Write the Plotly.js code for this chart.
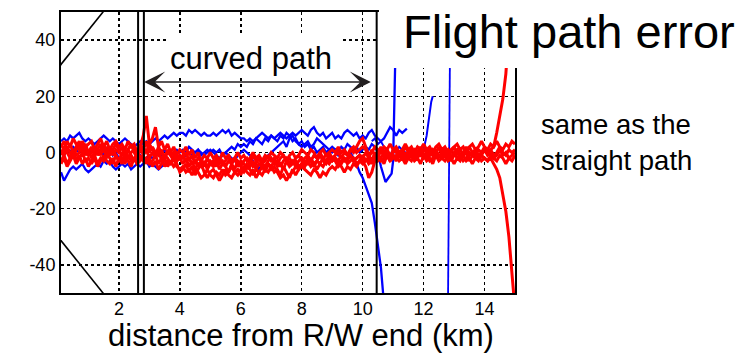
<!DOCTYPE html>
<html>
<head>
<meta charset="utf-8">
<script src="https://cdn.plot.ly/plotly-3.0.1.min.js"></script>
<style>html,body{margin:0;padding:0;background:#fff;}#chart{width:754px;height:353px;}</style>
</head>
<body>
<div id="chart"></div>
<script>
// distance grid (km)
const kmGrid = [
0.1,0.2,0.3,0.4,0.5,0.6,0.7,0.8,0.9,1.0,
1.1,1.2,1.3,1.4,1.5,1.6,1.7,1.8,1.9,2.0,
2.1,2.2,2.3,2.4,2.5,2.6,2.7,2.8,2.9,3.0,
3.1,3.2,3.3,3.4,3.5,3.6,3.7,3.8,3.9,4.0,
4.1,4.2,4.3,4.4,4.5,4.6,4.7,4.8,4.9,5.0,
5.1,5.2,5.3,5.4,5.5,5.6,5.7,5.8,5.9,6.0,
6.1,6.2,6.3,6.4,6.5,6.6,6.7,6.8,6.9,7.0,
7.1,7.2,7.3,7.4,7.5,7.6,7.7,7.8,7.9,8.0,
8.1,8.2,8.3,8.4,8.5,8.6,8.7,8.8,8.9,9.0,
9.1,9.2,9.3,9.4,9.5,9.6,9.7,9.8,9.9,10.0,
10.1,10.2,10.3,10.4,10.5,10.6,10.7,10.8,10.9,11.0,
11.1,11.2,11.3,11.4,11.5,11.6,11.7,11.8,11.9,12.0,
12.1,12.2,12.3,12.4,12.5,12.6,12.7,12.8,12.9,13.0,
13.1,13.2,13.3,13.4,13.5,13.6,13.7,13.8,13.9,14.0,
14.1,14.2,14.3,14.4,14.5,14.6,14.7,14.8,14.9,15.0];

// red runs (flight path error, m) on kmGrid
const redRun1 = [
3,1,4,2,5,3,1,4,2,3,
4,1,3,5,2,4,1,3,4,2,
3,1,4,2,3,0,2,6,13,3,
5,9,2,4,1,3,0,2,-1,1,
0,2,-1,1,-2,0,-3,-1,-2,0,
-2,-1,-3,0,-2,-1,-3,-2,0,-2,
-1,-3,-2,0,-2,-1,-3,-1,-2,0,
-1,-2,0,-1,-3,-1,0,-2,-1,1,
0,-1,1,0,-2,0,1,-1,0,1,
0,2,0,1,-1,1,2,0,1,2,
1,-1,0,2,1,0,2,1,3,1,
2,0,1,3,1,2,0,2,1,3,
1,2,0,2,3,1,2,0,1,2,
3,1,2,0,2,3,1,2,4,2,
1,3,2,4,2,1,3,2,4,3];
const redRun2 = [
1,-1,2,0,-2,1,3,0,1,-1,
0,2,-1,1,3,0,2,-1,1,0,
2,-1,1,3,0,-2,1,2,0,3,
1,-1,2,0,-2,1,-1,0,-3,-1,
-2,0,-3,-1,-4,-2,-3,-5,-2,-4,
-3,-5,-2,-4,-3,-1,-4,-2,-3,-5,
-3,-2,-4,-1,-3,-2,-4,-3,-1,-3,
-2,-4,-2,-1,-3,-2,-4,-2,-1,-3,
-2,-1,-3,-1,-2,0,-2,-1,0,-2,
-1,0,-2,0,-1,1,0,2,4,5,
2,-1,-3,0,-2,1,-1,0,-2,1,
0,-1,1,-2,0,1,-1,0,2,-1,
0,1,-1,0,2,-1,0,1,-2,0,
1,-1,0,2,-1,0,1,-1,0,2,
0,1,-1,0,2,0,-1,1,0,1];
const redRun3 = [
-1,2,0,-2,1,-1,0,3,-1,1,
-2,0,1,-1,2,-2,0,1,-1,-3,
0,-2,1,-1,-3,0,2,-1,1,-2,
0,-2,1,-3,-1,-2,-4,-1,-3,-2,
-4,-2,-5,-3,-6,-4,-5,-3,-6,-4,
-5,-3,-6,-4,-5,-7,-4,-6,-3,-5,
-6,-4,-5,-3,-6,-4,-5,-7,-4,-5,
-3,-5,-4,-6,-3,-5,-4,-3,-5,-4,
-3,-4,-2,-4,-3,-1,-3,-4,-2,-3,
-2,-3,-1,-3,-2,-1,-3,-2,-1,-3,
-5,-9,-7,-3,-1,-2,0,-1,-3,-1,
-2,0,-1,-3,-1,0,-2,-1,1,-1,
-2,0,-1,1,-1,-2,0,-1,-3,-1,
0,-2,-1,0,-3,-1,0,-2,-1,1,
-1,0,-2,-1,1,-1,0,-2,-1,0];
const redRun4 = [
-3,-1,-4,-2,0,-3,-1,-4,-2,-5,
-3,-1,-4,-2,-3,0,-2,-4,-1,-3,
-2,-4,-1,-3,-2,-4,-1,-3,-2,-4,
-3,-1,-4,-2,-5,-3,-4,-2,-5,-6,
-5,-7,-6,-8,-6,-7,-9,-8,-6,-8,
-9,-7,-8,-6,-8,-7,-5,-7,-8,-6,
-7,-5,-6,-8,-6,-7,-5,-6,-4,-6,
-5,-7,-9,-8,-10,-8,-7,-5,-6,-4,
-5,-3,-5,-4,-6,-4,-5,-3,-4,-2,
-3,-5,-4,-2,-4,-3,-2,-4,-3,-1,
-3,-2,-4,-2,-1,-3,-2,0,-2,-1,
-3,-1,-2,0,-2,-3,-1,-2,0,-2,
-1,-3,-2,0,-1,-2,-3,-1,-2,0,
-2,-1,-3,-2,0,-1,-2,-3,-1,-2,
-3,-1,-2,-3,-1,-2,-4,-2,-3,-1];
const redRun5 = [
2,4,1,3,0,2,4,1,3,0,
2,-1,1,3,0,2,-1,1,3,1,
-1,1,-2,0,1,-1,3,1,4,0,
2,0,-1,1,-2,0,-1,-3,-1,-2,
-1,-3,-2,-4,-3,-5,-3,-4,-5,-3,
-4,-2,-4,-3,-5,-3,-4,-2,-5,-3,
-4,-6,-3,-5,-4,-2,-4,-5,-3,-2,
-4,-3,-5,-3,-2,-4,-3,-5,-3,-2,
-4,-2,-3,-5,-3,-4,-2,-3,-1,-3,
-2,-4,-3,-2,-3,-1,-3,-2,-1,-2,
0,-2,1,-1,0,2,0,1,-1,0,
1,-1,0,2,0,-1,1,0,-1,1,
0,-1,1,0,-2,0,1,-1,0,2,
0,1,-1,0,2,0,-1,1,0,1,
0,1,2,7,13,19,28,42,58,75];
const redRun6 = [
-4,-2,-5,-3,-1,-4,-2,0,-3,-2,
-4,-2,-5,-3,-1,-3,-4,-2,-5,-2,
-4,-1,-3,-5,-2,-4,-3,-1,-4,-2,
-5,-3,-6,-4,-2,-5,-3,-5,-4,-7,
-6,-4,-7,-5,-8,-6,-4,-7,-9,-7,
-6,-8,-10,-8,-6,-8,-9,-7,-6,-8,
-5,-7,-8,-6,-9,-7,-8,-6,-7,-5,
-7,-6,-8,-5,-7,-9,-6,-8,-6,-5,
-6,-7,-8,-6,-7,-9,-7,-8,-6,-5,
-6,-4,-5,-7,-5,-6,-4,-5,-3,-4,
-2,-4,-3,-1,-3,-2,-4,-1,-3,-2,
-1,-3,-2,-4,-2,-1,-3,-2,-4,-1,
-3,-2,-4,-1,-3,-2,-1,-3,-2,-4,
-2,-3,-1,-3,-2,-4,-2,-1,-3,-2,
-3,-2,-4,-6,-9,-15,-21,-30,-42,-56];

// blue runs
const blueRunA = [
4,5,4,6,5,6,7,5,4,5,
4,3,4,5,6,5,4,5,4,3,
4,5,4,3,2,3,4,3,4,3,
4,5,4,5,6,5,6,7,6,7,
7,6,8,7,8,7,6,7,6,6,
7,6,7,8,7,8,6,7,6,5,
5,4,5,4,5,6,7,6,5,6,
5,6,7,6,5,6,7,6,7,8,
7,6,8,9,7,6,7,5,6,7,
5,6,5,7,8,7,6,7,5,6,
5,7,8,6,5,4,5];
const blueRunATailKm = [10.8,10.9,11.0,11.1,11.2,11.3,11.45];
const blueRunATail = [7,9,8,6,8,7,8.5];

const blueRunB = [
0,-1,1,0,2,1,0,2,1,0,
1,2,0,1,-1,0,1,-1,0,-2,
-1,0,-2,-1,-3,-2,-1,-3,-2,-1,
-2,-1,0,-1,1,0,-1,0,1,0,
1,0,2,1,0,1,-1,0,1,0,
1,0,1,-1,0,1,2,1,3,2,
3,2,4,3,5,4,3,5,4,6,
5,4,6,5,7,6,4,5,3,4,
2,3,1,2,0,1,2,0,1,2,
1,0,2,1,3,2,1,2,0,1,
2,1,3,2,0];
const blueRunBTailKm = [10.6,10.7,10.75,10.85,10.95,11.0,11.02,11.05,11.08,11.12];
const blueRunBTail = [-5,-9,-10.5,-9,-7.5,-3,5,20,38,55];

const blueRunC = [
-7,-10,-8,-6,-5,-6,-5,-4,-6,-7,
-6,-5,-4,-5,-3,-4,-3,-5,-6,-5,
-4,-5,-4,-6,-5,-4,-5,-4,-3,-5,
-4,-5,-6,-5,-4,-3,-4,-2,-3,-1,
-2,-1,0,-1,0,1,0,-1,0,1,
0,-1,-2,-1,0,-1,-2,-3,-1,0,
1,0,-1,-3,-5,-6,-4,-2,-1,0,
1,2,3,4,2,5,6,4,3,2,
3,4,2,3,5,4,3,2,1,0,
1,-1,0,1,-1,0,-2,-4];
const blueRunCTailKm = [9.9,10.0,10.1,10.2,10.3,10.4,10.5,10.6,10.67,10.72];
const blueRunCTail = [-7,-9,-12,-15,-18,-25,-33,-41,-50,-55];

const blueRunD = [4,5,3,4,2,0,-1,1,0,2,1,0,-1,1,0,2,1,1];   // 10.3 .. 12.0 km
const blueRunDTailKm = [12.05,12.1,12.15,12.2,12.25,12.3];
const blueRunDTail = [3,6,10,14,18,20];

const blueRunEKm = [12.88,12.8];
const blueRunE = [55,-55];

// reference guides
const guideKm = [0,1.5];
const guideUpper = [30,50.3];
const guideLower = [-30,-50.3];
const sectionBoundsKm = [2.63,2.82,10.46];
const curvedPathFromKm = 2.78, curvedPathToKm = 10.27, curvedPathArrowY = 25.1;

// ticks
const xTickVals = [2,4,6,8,10,12,14];
const yTickVals = [-40,-20,0,20,40];
const yTickText = ['-40','-20','0','20','40'];

const RED = '#ff0000', BLUE = '#0000ff';
const FONT = 'Arial, "Liberation Sans", sans-serif';

const traces = [];
function addLine(x, y, color, width) {
  traces.push({type:'scatter', mode:'lines', x:x, y:y, line:{color:color, width:width}, hoverinfo:'skip', showlegend:false, cliponaxis:true});
}
addLine(guideKm, guideUpper, '#000', 1.6);
addLine(guideKm, guideLower, '#000', 1.6);

addLine(kmGrid.slice(0, blueRunA.length).concat(blueRunATailKm), blueRunA.concat(blueRunATail), BLUE, 2.3);
addLine(kmGrid.slice(0, blueRunB.length).concat(blueRunBTailKm), blueRunB.concat(blueRunBTail), BLUE, 2.3);
addLine(kmGrid.slice(0, blueRunC.length).concat(blueRunCTailKm), blueRunC.concat(blueRunCTail), BLUE, 2.3);
addLine(kmGrid.slice(102, 102 + blueRunD.length).concat(blueRunDTailKm), blueRunD.concat(blueRunDTail), BLUE, 2);
addLine(blueRunEKm, blueRunE, BLUE, 1.8);

[redRun1, redRun2, redRun3, redRun4, redRun5, redRun6].forEach(r => addLine(kmGrid, r, RED, 3));

const shapes = sectionBoundsKm.map(k => ({type:'line', xref:'x', yref:'paper', x0:k, x1:k, y0:0, y1:1, line:{color:'#000', width:2}, layer:'above'}));
// white box behind "curved path"
shapes.push({type:'rect', xref:'x', yref:'y', x0:3.57, x1:9.33, y0:26.9, y1:42.1, fillcolor:'#fff', line:{width:0}, layer:'above'});
// white box behind the title
shapes.push({type:'rect', xref:'paper', yref:'paper', x0:0.7004, x1:1.6, y0:0.8007, y1:1.2, fillcolor:'#fff', line:{width:0}, layer:'above'});

const layout = {
  width:754, height:353,
  margin:{l:61, r:239, t:12, b:60},
  paper_bgcolor:'#fff', plot_bgcolor:'#fff',
  showlegend:false,
  font:{family:FONT, color:'#000'},
  xaxis:{
    range:[0.1,15], tickvals:xTickVals, ticks:'', ticklabelstandoff:-2, showgrid:true, gridcolor:'#000', gridwidth:1.5, griddash:'dot',
    zeroline:false, showline:true, mirror:true, linecolor:'#000', linewidth:2,
    tickfont:{size:18, family:FONT, color:'#000'}
  },
  yaxis:{
    range:[-50,50], tickvals:yTickVals, ticktext:yTickText, ticks:'', showgrid:true, gridcolor:'#000', gridwidth:1.5, griddash:'dot',
    zeroline:false, showline:true, mirror:true, linecolor:'#000', linewidth:2,
    tickfont:{size:18, family:FONT, color:'#000'}
  },
  shapes:shapes,
  annotations:[
    {xref:'x', yref:'y', x:curvedPathToKm, y:curvedPathArrowY, ax:curvedPathFromKm, ay:curvedPathArrowY, axref:'x', ayref:'y',
     text:'', showarrow:true, arrowside:'end+start', arrowhead:3, startarrowhead:3, arrowsize:2.2, startarrowsize:2.2,
     arrowwidth:1.6, arrowcolor:'#231f20', standoff:0, startstandoff:0},
    {xref:'x', yref:'y', x:6.32, y:33.6, text:'curved path', showarrow:false, font:{size:31, family:FONT, color:'#000'}, xanchor:'center', yanchor:'middle'},
    {xref:'paper', yref:'paper', x:1.119, y:0.93, text:'Flight path error', showarrow:false, font:{size:47, family:FONT, color:'#000'}, xanchor:'center', yanchor:'middle'},
    {xref:'paper', yref:'paper', x:1.052, y:0.534, text:'same as the<br>straight path', showarrow:false, align:'left', font:{size:27.5, family:FONT, color:'#000'}, xanchor:'left', yanchor:'middle'},
    {xref:'paper', yref:'paper', x:0.529, y:-0.2171, text:'distance from R/W end (km)', showarrow:false, font:{size:31, family:FONT, color:'#000'}, xanchor:'center', yanchor:'bottom', borderpad:0}
  ]
};

Plotly.newPlot('chart', traces, layout, {staticPlot:true, displayModeBar:false});
</script>
</body>
</html>
